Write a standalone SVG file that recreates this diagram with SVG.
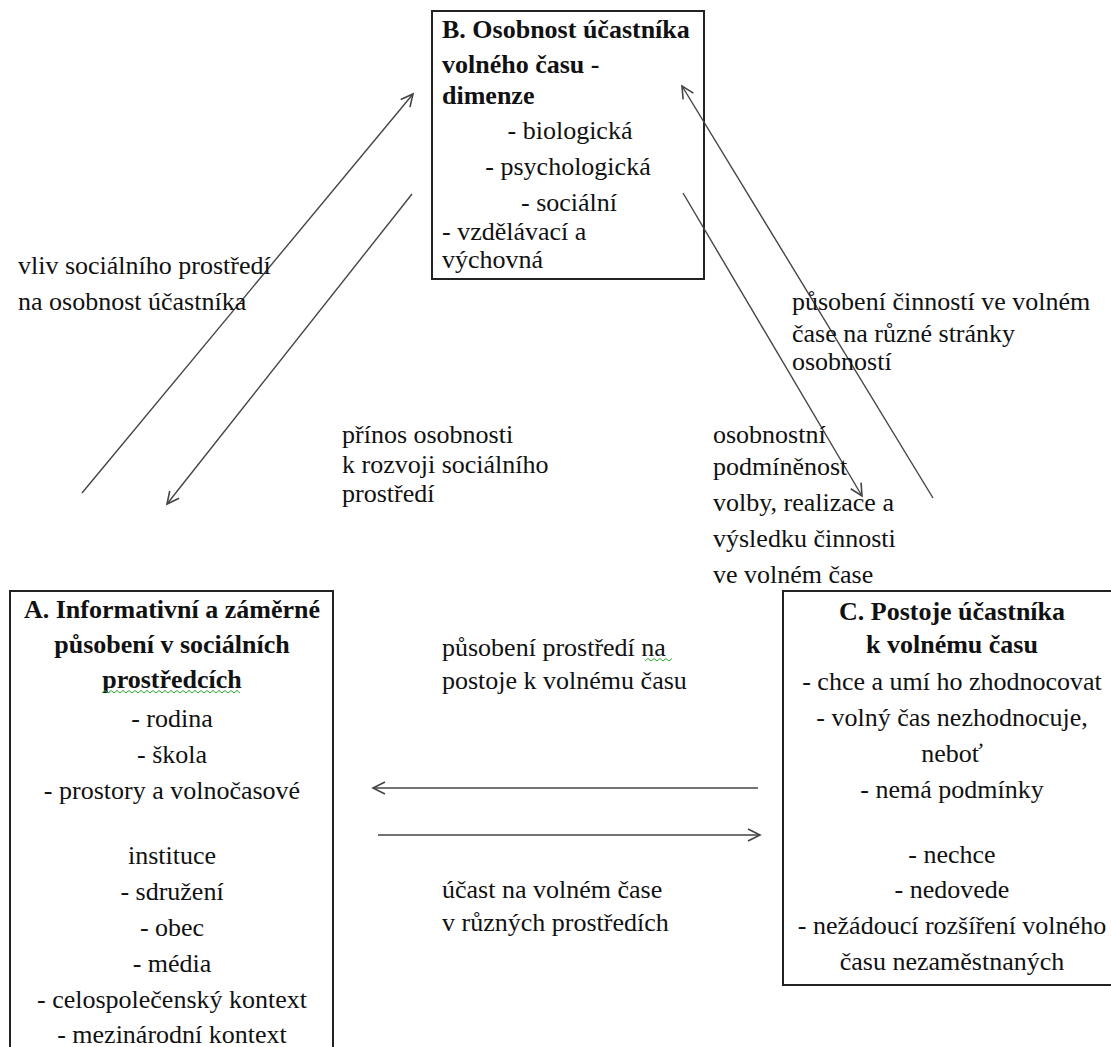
<svg xmlns="http://www.w3.org/2000/svg" width="1111" height="1047" viewBox="0 0 1111 1047" font-family="Liberation Serif, Times New Roman, serif">
<style>
svg text, text, tspan { font-family: "Liberation Serif", "Times New Roman", Tinos, serif !important; }
.t { font-size: 26px; fill: #111; }
.b { font-weight: bold; }
.c { text-anchor: middle; }
.box { fill: #fff; stroke: #222; stroke-width: 2; }
.sq { fill: none; stroke: #3a3; stroke-width: 1; }
</style>
<defs>
<marker id="ah" markerUnits="userSpaceOnUse" markerWidth="16" markerHeight="16" refX="13" refY="7" orient="auto">
<path d="M1,1 L13,7 L1,13" fill="none" stroke="#444" stroke-width="1.6"/>
</marker>
</defs>
<rect width="1111" height="1047" fill="#fff"/>

<g id="node-b">
<rect class="box" x="432" y="11" width="272" height="268"/>
<text class="t b" x="442" y="38" font-family="Liberation Serif, serif">B. Osobnost účastníka</text>
<text class="t b" x="442" y="73" font-family="Liberation Serif, serif">volného času -</text>
<text class="t b" x="442" y="104" font-family="Liberation Serif, serif">dimenze</text>
<text class="t c" x="570" y="139" font-family="Liberation Serif, serif">- biologická</text>
<text class="t c" x="568" y="175" font-family="Liberation Serif, serif">- psychologická</text>
<text class="t c" x="569" y="211" font-family="Liberation Serif, serif">- sociální</text>
<text class="t" x="442" y="240" font-family="Liberation Serif, serif">- vzdělávací a</text>
<text class="t" x="442" y="268" font-family="Liberation Serif, serif">výchovná</text>
</g>

<g id="node-a">
<rect class="box" x="10" y="591" width="323" height="470"/>
<text class="t b c" x="172" y="618" font-family="Liberation Serif, serif">A. Informativní a záměrné</text>
<text class="t b c" x="172" y="653" font-family="Liberation Serif, serif">působení v sociálních</text>
<text class="t b c" x="172" y="688" font-family="Liberation Serif, serif">prostředcích</text>
<path class="sq" d="M102,693 l3,-2.5 l3,2.5 l3,-2.5 l3,2.5 l3,-2.5 l3,2.5 l3,-2.5 l3,2.5 l3,-2.5 l3,2.5 l3,-2.5 l3,2.5 l3,-2.5 l3,2.5 l3,-2.5 l3,2.5 l3,-2.5 l3,2.5 l3,-2.5 l3,2.5 l3,-2.5 l3,2.5 l3,-2.5 l3,2.5 l3,-2.5 l3,2.5 l3,-2.5 l3,2.5 l3,-2.5 l3,2.5 l3,-2.5 l3,2.5 l3,-2.5 l3,2.5 l3,-2.5 l3,2.5 l3,-2.5 l3,2.5 l3,-2.5 l3,2.5 l3,-2.5 l3,2.5 l3,-2.5 l3,2.5 l3,-2.5 l3,2.5"/>
<text class="t c" x="172" y="727" font-family="Liberation Serif, serif">- rodina</text>
<text class="t c" x="172" y="763" font-family="Liberation Serif, serif">- škola</text>
<text class="t c" x="172" y="799" font-family="Liberation Serif, serif">- prostory a volnočasové</text>
<text class="t c" x="172" y="864" font-family="Liberation Serif, serif">instituce</text>
<text class="t c" x="172" y="900" font-family="Liberation Serif, serif">- sdružení</text>
<text class="t c" x="172" y="936" font-family="Liberation Serif, serif">- obec</text>
<text class="t c" x="172" y="972" font-family="Liberation Serif, serif">- média</text>
<text class="t c" x="172" y="1008" font-family="Liberation Serif, serif">- celospolečenský kontext</text>
<text class="t c" x="172" y="1043" font-family="Liberation Serif, serif">- mezinárodní kontext</text>
</g>

<g id="node-c">
<rect class="box" x="783" y="591" width="340" height="394"/>
<text class="t b c" x="952" y="620" font-family="Liberation Serif, serif">C. Postoje účastníka</text>
<text class="t b c" x="952" y="653" font-family="Liberation Serif, serif">k volnému času</text>
<text class="t c" x="952" y="690" font-family="Liberation Serif, serif">- chce a umí ho zhodnocovat</text>
<text class="t c" x="952" y="726" font-family="Liberation Serif, serif">- volný čas nezhodnocuje,</text>
<text class="t c" x="952" y="762" font-family="Liberation Serif, serif">neboť</text>
<text class="t c" x="952" y="798" font-family="Liberation Serif, serif">- nemá podmínky</text>
<text class="t c" x="952" y="863" font-family="Liberation Serif, serif">- nechce</text>
<text class="t c" x="952" y="898" font-family="Liberation Serif, serif">- nedovede</text>
<text class="t c" x="952" y="934" font-family="Liberation Serif, serif">- nežádoucí rozšíření volného</text>
<text class="t c" x="952" y="970" font-family="Liberation Serif, serif">času nezaměstnaných</text>
</g>

<g id="connectors" stroke="#444" stroke-width="1.4" fill="none" marker-end="url(#ah)">
<line x1="82" y1="493" x2="413" y2="94"/>
<line x1="412" y1="194" x2="167" y2="504"/>
<line x1="933" y1="498" x2="682" y2="86"/>
<line x1="683" y1="193" x2="862" y2="496"/>
<line x1="758" y1="788" x2="373" y2="788"/>
<line x1="378" y1="835" x2="760" y2="835"/>
</g>

<g id="labels">
<text class="t" x="18" y="274" font-family="Liberation Serif, serif">vliv sociálního prostředí</text>
<text class="t" x="18" y="310" font-family="Liberation Serif, serif">na osobnost  účastníka</text>
<text class="t" x="342" y="443" font-family="Liberation Serif, serif">přínos osobnosti</text>
<text class="t" x="342" y="473" font-family="Liberation Serif, serif">k rozvoji sociálního</text>
<text class="t" x="342" y="502" font-family="Liberation Serif, serif">prostředí</text>
<text class="t" x="792" y="310" font-family="Liberation Serif, serif">působení činností ve volném</text>
<text class="t" x="792" y="342" font-family="Liberation Serif, serif">čase na různé stránky</text>
<text class="t" x="792" y="370" font-family="Liberation Serif, serif">osobností</text>
<text class="t" x="713" y="443" font-family="Liberation Serif, serif">osobnostní</text>
<text class="t" x="713" y="475" font-family="Liberation Serif, serif">podmíněnost</text>
<text class="t" x="713" y="511" font-family="Liberation Serif, serif">volby, realizace a</text>
<text class="t" x="713" y="547" font-family="Liberation Serif, serif">výsledku činnosti</text>
<text class="t" x="713" y="583" font-family="Liberation Serif, serif">ve volném čase</text>
<text class="t" x="442" y="656" font-family="Liberation Serif, serif">působení prostředí na</text>
<text class="t" x="442" y="689" font-family="Liberation Serif, serif">postoje k volnému času</text>
<path class="sq" d="M645,661 l3,-2.5 l3,2.5 l3,-2.5 l3,2.5 l3,-2.5 l3,2.5 l3,-2.5 l3,2.5 l3,-2.5"/>
<text class="t" x="442" y="898" font-family="Liberation Serif, serif">účast na volném čase</text>
<text class="t" x="442" y="931" font-family="Liberation Serif, serif">v různých prostředích</text>
</g>
</svg>
